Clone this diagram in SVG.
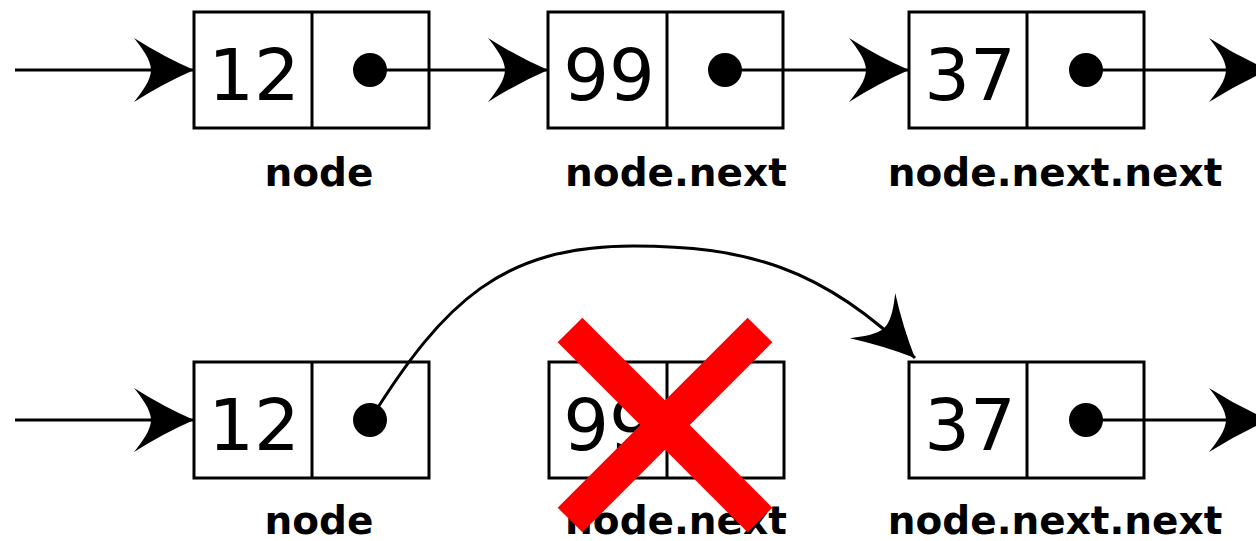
<svg xmlns="http://www.w3.org/2000/svg" width="1256" height="541" viewBox="0 0 1256 541">
<style>
.box{fill:#fff;stroke:#000;stroke-width:3}
.div{stroke:#000;stroke-width:3}
.dot{fill:#000}
.val{font-family:"DejaVu Sans",sans-serif;font-size:72px;text-anchor:middle;fill:#000}
.lbl{font-family:"DejaVu Sans",sans-serif;font-weight:bold;font-size:39px;text-anchor:middle;fill:#000}
.conn{fill:none;stroke:#000;stroke-width:3;marker-end:url(#arr)}
.cross{stroke:#ff0000;stroke-width:35;stroke-linecap:butt}
</style>
<defs>
<marker id="arr" markerUnits="userSpaceOnUse" viewBox="-65 -35 70 70" markerWidth="70" markerHeight="70" refX="0" refY="0" orient="auto" overflow="visible">
<path d="M0,0 Q-30,-13 -60,-32 C-52,-22 -43,-10 -43,0 C-43,10 -52,22 -60,32 Q-30,13 0,0 Z" fill="#000"/>
</marker>
</defs>
<rect width="1256" height="541" fill="#fff"/>

<g id="top-node1">
<rect class="box" x="194" y="12" width="235" height="116"/>
<line class="div" x1="312" y1="12" x2="312" y2="128"/>
<text class="val" x="254" y="100">12</text>
<text class="lbl" x="319" y="186">node</text>
</g>
<g id="top-node2">
<rect class="box" x="548" y="12" width="235" height="116"/>
<line class="div" x1="667" y1="12" x2="667" y2="128"/>
<text class="val" x="609" y="100">99</text>
<text class="lbl" x="676" y="186">node.next</text>
</g>
<g id="top-node3">
<rect class="box" x="909" y="12" width="235" height="116"/>
<line class="div" x1="1027" y1="12" x2="1027" y2="128"/>
<text class="val" x="970" y="100">37</text>
<text class="lbl" x="1055" y="186">node.next.next</text>
</g>

<g id="bot-node1">
<rect class="box" x="194" y="362" width="235" height="116"/>
<line class="div" x1="312" y1="362" x2="312" y2="478"/>
<text class="val" x="254" y="450">12</text>
<text class="lbl" x="319" y="534">node</text>
</g>
<g id="bot-node2">
<rect class="box" x="549" y="362" width="235" height="116"/>
<line class="div" x1="667" y1="362" x2="667" y2="478"/>
<text class="val" x="609" y="450">99</text>
<text class="lbl" x="676" y="534">node.next</text>
</g>
<g id="bot-node3">
<rect class="box" x="909" y="362" width="235" height="116"/>
<line class="div" x1="1027" y1="362" x2="1027" y2="478"/>
<text class="val" x="970" y="450">37</text>
<text class="lbl" x="1055" y="534">node.next.next</text>
</g>

<g id="connectors">
<path class="conn" d="M15,70 H194"/>
<path class="conn" d="M370,70 H548"/>
<path class="conn" d="M725,70 H909"/>
<path class="conn" d="M1086,70 H1269"/>
<path class="conn" d="M15,420 H194"/>
<path class="conn" d="M370,420 C444,301 503,246 633,246 C743,246 823,266 915,358"/>
<path class="conn" d="M1086,420 H1269"/>
</g>

<g id="dots">
<circle class="dot" cx="370" cy="70" r="17"/>
<circle class="dot" cx="725" cy="70" r="17"/>
<circle class="dot" cx="1086" cy="70" r="17"/>
<circle class="dot" cx="370" cy="420" r="17"/>
<circle class="dot" cx="1086" cy="420" r="17"/>
</g>

<g id="cross">
<line class="cross" x1="570" y1="330" x2="760" y2="520"/>
<line class="cross" x1="760" y1="330" x2="570" y2="520"/>
</g>
</svg>
